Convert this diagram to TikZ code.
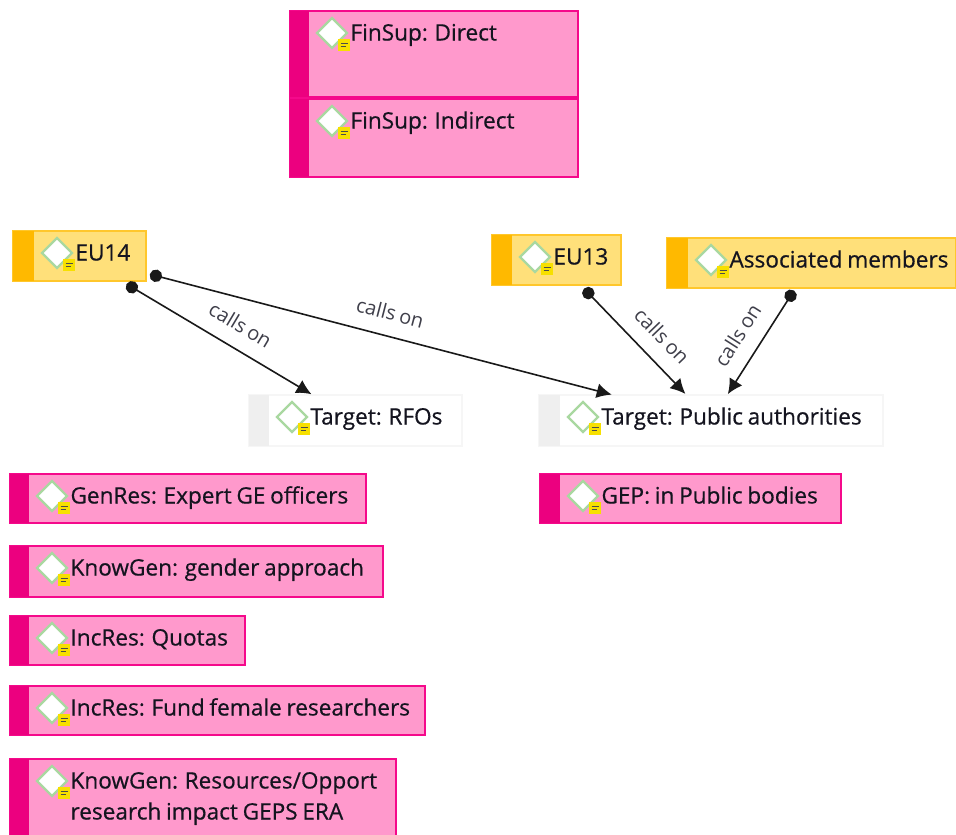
\documentclass[tikz,border=0pt]{standalone}
\usepackage{fontspec}
\setmainfont[FakeBold=0.6,WordSpace=0.8]{Open Sans}
\newfontfamily\linkfont[WordSpace=0.8]{Open Sans}
\usetikzlibrary{shapes.geometric,arrows.meta,calc,positioning}
\definecolor{pinkfill}{HTML}{FF99CC}
\definecolor{pinkline}{HTML}{F5098B}
\definecolor{pinkbar}{HTML}{EC007F}
\definecolor{yelfill}{HTML}{FFE07A}
\definecolor{yelline}{HTML}{FFC72C}
\definecolor{yelbar}{HTML}{FFB900}
\definecolor{tgtline}{HTML}{F6F6F6}
\definecolor{tgtbar}{HTML}{EFEFEF}
\definecolor{icongreen}{HTML}{A9D8A0}
\definecolor{notey}{HTML}{F7E000}
\definecolor{inktext}{HTML}{14141F}
\definecolor{linktext}{HTML}{3F3F4A}
\tikzset{
  pinkbox/.style={draw=pinkline,fill=pinkfill},
  yelbox/.style={draw=yelline,fill=yelfill},
  tgtbox/.style={draw=tgtline,fill=white},
  pinkbarst/.style={fill=pinkbar},
  yelbarst/.style={fill=yelbar},
  tgtbarst/.style={fill=tgtbar},
  boxbase/.style={rectangle,line width=1.8pt,inner sep=0pt,outer sep=0pt,anchor=north west},
  barbase/.style={rectangle,draw=none,inner sep=0pt,outer sep=0pt,anchor=north west},
  iconst/.style={diamond,aspect=1,draw=icongreen,fill=white,line width=2.2pt,minimum size=30pt,inner sep=0pt,outer sep=0pt},
  notest/.style={rectangle,fill=notey,minimum size=12pt,inner sep=0pt,outer sep=0pt},
  titlest/.style={anchor=base west,inner sep=0pt,outer sep=0pt,align=left,text=inktext,font=\fontsize{22.6}{31}\selectfont},
  callst/.style={sloped,above=15pt,inner sep=0pt,text=linktext,font=\linkfont\fontsize{20}{24}\selectfont},
  link/.style={draw=black!90,line width=1.6pt,{Circle[length=12.5pt,width=12.5pt]}-{Latex[length=15pt,width=15pt]}},
}
% name, x, y, w, h, bar w, kind, text
\newcommand\dbox[8]{%
  \node[boxbase,#7box,minimum width=#4pt,minimum height=#5pt] (#1) at (#2,#3) {};
  \node[barbase,#7barst,minimum width=#6pt,minimum height=#5pt] (#1-bar) at (#2,#3) {};
  \node[iconst] (#1-icon) at ($(#1-bar.north east)+(23,22)$) {};
  \node[notest] (#1-note) at ($(#1-icon.center)+(12,12)$) {};
  \draw[black!70,line width=1.2pt] ($(#1-note.center)+(-3.5,-1.5)$) -- ($(#1-note.center)+(3.5,-1.5)$)
    ($(#1-note.center)+(-3.5,1.8)$) -- ($(#1-note.center)+(1.5,1.8)$);
  \node[titlest] (#1-text) at ($(#1-bar.north east)+(41.5,29.5)$) {#8};
}
\begin{document}
\begin{tikzpicture}[x=1pt,y=-1pt]
\useasboundingbox (0,0) rectangle (956,835);
\clip (0,0) rectangle (956,835);
\dbox{direct}{290}{11}{288}{86}{19}{pink}{FinSup: Direct}
\dbox{indirect}{290}{99}{288}{78}{19}{pink}{FinSup: Indirect}
\dbox{eu14}{13}{231}{133}{50}{21}{yel}{EU14}
\dbox{eu13}{492}{235}{129}{50}{20}{yel}{EU13}
\dbox{assoc}{667}{238}{289}{50}{21}{yel}{Associated members}
\dbox{rfo}{249}{395}{213}{51}{20}{tgt}{Target: RFOs}
\dbox{pub}{539}{395}{344}{51}{21}{tgt}{Target: Public authorities}
\dbox{genres}{10}{474}{356}{49}{19}{pink}{GenRes: Expert GE officers}
\dbox{gep}{540}{474}{301}{49}{20}{pink}{GEP: in Public bodies}
\dbox{gender}{10}{546}{373}{51}{19}{pink}{KnowGen: gender approach}
\dbox{quotas}{10}{616}{235}{49}{19}{pink}{IncRes: Quotas}
\dbox{fund}{10}{686}{415}{49}{19}{pink}{IncRes: Fund female researchers}
\dbox{resources}{10}{759}{386}{90}{19}{pink}{\vtop{\hbox{KnowGen: Resources/Opport}\hbox{research impact GEPS ERA}}}
\draw[link,shorten <=6pt,shorten >=1.5pt] (eu14) -- node[callst,pos=.56] (l1) {calls on} (rfo);
\draw[link,shorten <=4pt,shorten >=1.5pt] (eu14) -- node[callst,pos=.51] (l2) {calls on} (pub);
\draw[link,shorten <=5pt,shorten >=1.5pt] (eu13) -- node[callst,pos=.61] (l3) {calls on} (pub);
\draw[link,shorten <=3pt,shorten >=1pt] (assoc) -- node[callst,pos=.56] (l4) {calls on} (pub);
\end{tikzpicture}
\end{document}
